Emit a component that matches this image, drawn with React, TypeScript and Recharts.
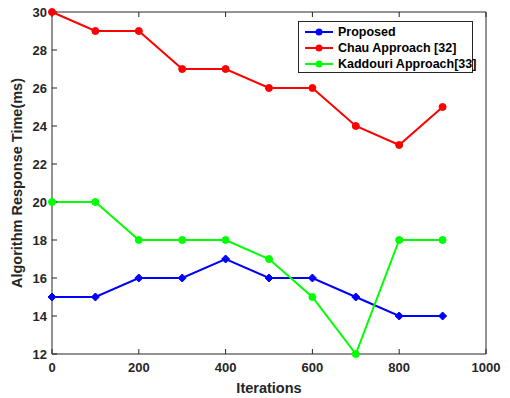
import React from 'react';
import { LineChart, Line, XAxis, YAxis } from 'recharts';

const iterations = [0, 100, 200, 300, 400, 500, 600, 700, 800, 900];
const proposed = [15, 15, 16, 16, 17, 16, 16, 15, 14, 14];
const chau = [30, 29, 29, 27, 27, 26, 26, 24, 23, 25];
const kaddouri = [20, 20, 18, 18, 18, 17, 15, 12, 18, 18];
const xTicks = [0, 200, 400, 600, 800, 1000];
const yTicks = [12, 14, 16, 18, 20, 22, 24, 26, 28, 30];

const seriesNames = ['Proposed', 'Chau Approach [32]', 'Kaddouri Approach[33]'];
const seriesColors = ['#0000ff', '#ff0000', '#00ff00'];

const data = iterations.map((it, i) => ({
  it,
  proposed: proposed[i],
  chau: chau[i],
  kaddouri: kaddouri[i],
}));

const FONT = '"Liberation Sans", Arial, sans-serif';
const AX = '#262626';

const Diamond = (props: any) => {
  const { cx, cy, fill } = props;
  if (cx == null || cy == null) return null;
  const r = 4;
  return <path d={`M${cx},${cy - r}L${cx + r},${cy}L${cx},${cy + r}L${cx - r},${cy}Z`} fill={fill} stroke={fill} />;
};

const Dot = (props: any) => {
  const { cx, cy, fill } = props;
  if (cx == null || cy == null) return null;
  return <circle cx={cx} cy={cy} r={3.5} fill={fill} stroke={fill} />;
};

const LegendBox = () => (
  <div
    style={{
      position: 'absolute',
      left: 298,
      top: 21,
      border: '1px solid #262626',
      background: '#fff',
      width: 175,
      height: 52,
      boxSizing: 'border-box',
      paddingTop: 2,
      fontFamily: FONT,
      fontWeight: 'bold',
      fontSize: 12.5,
      color: '#000',
      whiteSpace: 'nowrap',
    }}
  >
    {seriesNames.map((n, i) => (
      <div key={n} style={{ display: 'flex', alignItems: 'center', height: 16 }}>
        <svg width={34} height={10} style={{ marginLeft: 5, flex: 'none' }}>
          <line x1={1} y1={5} x2={29} y2={5} stroke={seriesColors[i]} strokeWidth={2} />
          <circle cx={15} cy={5} r={3.5} fill={seriesColors[i]} />
        </svg>
        <span>{n}</span>
      </div>
    ))}
  </div>
);

export default function App() {
  const tickStyle = { fontFamily: FONT, fontWeight: 'bold', fontSize: 13, fill: AX };
  return (
    <div style={{ position: 'absolute', left: 0, top: 0, width: 510, height: 398, background: '#fff' }}>
      <LineChart width={510} height={398} data={data} margin={{ top: 11, right: 23, bottom: 0, left: 0 }}>
        <XAxis
          dataKey="it"
          type="number"
          domain={[0, 1000]}
          ticks={xTicks}
          height={44}
          tickSize={-5}
          tickMargin={14}
          stroke={AX}
          tick={tickStyle}
          axisLine={{ stroke: AX }}
          tickLine={{ stroke: AX }}
          label={{
            value: 'Iterations',
            position: 'insideBottom',
            offset: 5,
            style: { fontFamily: FONT, fontWeight: 'bold', fontSize: 14.5, fill: AX },
          }}
        />
        <XAxis
          xAxisId="top"
          orientation="top"
          dataKey="it"
          type="number"
          domain={[0, 1000]}
          ticks={xTicks}
          height={1}
          tickSize={-5}
          tickFormatter={() => ''}
          stroke={AX}
        />
        <YAxis
          type="number"
          domain={[12, 30]}
          ticks={yTicks}
          width={52}
          tickSize={-5}
          tickMargin={10}
          stroke={AX}
          tick={tickStyle}
          label={{
            value: 'Algorithm Response Time(ms)',
            angle: -90,
            position: 'insideLeft',
            offset: 17,
            style: { fontFamily: FONT, fontWeight: 'bold', fontSize: 14.5, fill: AX, textAnchor: 'middle' },
          }}
        />
        <YAxis
          yAxisId="right"
          orientation="right"
          type="number"
          domain={[12, 30]}
          ticks={yTicks}
          width={1}
          tickSize={-5}
          tickFormatter={() => ''}
          stroke={AX}
        />
        <Line
          dataKey="proposed"
          stroke={seriesColors[0]}
          fill={seriesColors[0]}
          strokeWidth={2}
          dot={<Diamond />}
          isAnimationActive={false}
        />
        <Line
          dataKey="chau"
          stroke={seriesColors[1]}
          fill={seriesColors[1]}
          strokeWidth={2}
          dot={<Dot />}
          isAnimationActive={false}
        />
        <Line
          dataKey="kaddouri"
          stroke={seriesColors[2]}
          fill={seriesColors[2]}
          strokeWidth={2}
          dot={<Dot />}
          isAnimationActive={false}
        />
      </LineChart>
      <LegendBox />
    </div>
  );
}
